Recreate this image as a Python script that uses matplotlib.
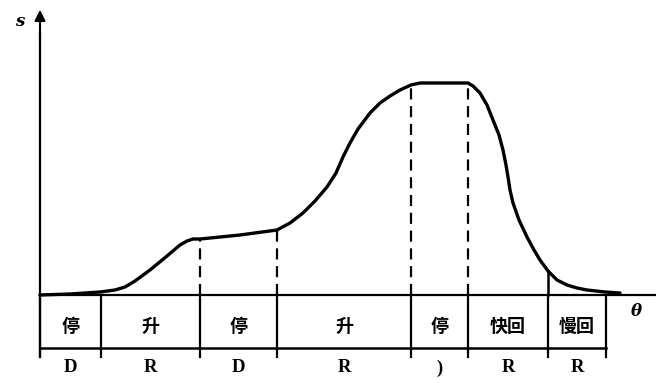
import matplotlib
matplotlib.use("Agg")
import matplotlib.pyplot as plt

plt.rcParams['font.family'] = ['Noto Sans CJK SC', 'DejaVu Sans']

# Displacement curve s(theta) of the cam follower
theta = [0, 30, 60, 75, 85, 95, 110, 127, 140, 147, 153, 160, 200, 237,
         250, 263, 275, 287, 296, 303, 310, 318, 330, 340, 350, 360, 371,
         380, 428, 433, 440, 447, 453, 459, 463, 466, 468, 470, 473, 479,
         487, 494, 500, 508, 517, 527, 537, 547, 565, 580]
s = [0, 1, 3, 5, 8, 14, 25, 39, 50, 54, 56, 56, 60, 65,
     72, 82, 94, 108, 122, 138, 152, 166, 182, 192, 199, 205, 210,
     212, 212, 209, 202, 190, 175, 160, 145, 130, 118, 105, 92, 75,
     58, 45, 35, 24, 15, 10, 7, 5, 3, 2]

# Phase boundaries along theta and the height of the curve at each one
bounds = [0, 61, 160, 237, 371, 428, 508, 566]
bound_s = [0, 0, 56, 65, 210, 212, 24, 0]

phase_names = ['停', '升', '停', '升', '停', '快回', '慢回']
phase_codes = ['D', 'R', 'D', 'R', ')', 'R', 'R']

fig = plt.figure(figsize=(6.56, 3.83), dpi=100)
ax = fig.add_axes([0, 0, 1, 1])
ax.set_xlim(-40, 616)
ax.set_ylim(-88, 295)
ax.axis('off')

lw_axis = 1.6
# axes with arrows
ax.plot([0, 0], [-62, 262], color='black', lw=lw_axis)
ax.annotate('', xy=(0, 288), xytext=(0, 255),
            arrowprops=dict(arrowstyle='-|>', color='black', lw=1.5,
                            mutation_scale=16))
ax.plot([0, 616], [0, 0], color='black', lw=lw_axis)
ax.text(-20, 273, 's', fontsize=12, fontstyle='italic', fontweight='bold',
        family='DejaVu Serif', ha='center', va='center')
ax.text(596, -16, 'θ', fontsize=12, fontstyle='italic', fontweight='bold',
        family='DejaVu Serif', ha='center', va='center')

# curve
ax.plot(theta, s, color='black', lw=2.4, solid_capstyle='round',
        solid_joinstyle='round')

# dashed guides from axis to curve, solid through the phase table
for b, h in zip(bounds, bound_s):
    if b in (160, 237, 371, 428):
        ax.plot([b, b], [0, h], color='black', lw=1.6, ls=(0, (5, 3)))
    elif b == 508:
        ax.plot([b, b], [0, h], color='black', lw=1.8)
    ax.plot([b, b], [0, -62], color='black', lw=1.6)

# phase table bottom line
ax.plot([bounds[0], bounds[-1]], [-53, -53], color='black', lw=1.8)

for i in range(len(phase_names)):
    mid = (bounds[i] + bounds[i + 1]) / 2
    ax.text(mid, -31, phase_names[i], fontsize=13, fontweight='bold',
            ha='center', va='center')
    ax.text(mid, -73, phase_codes[i], fontsize=13.5, fontweight='bold',
            family='Liberation Serif', ha='center', va='center')

fig.savefig('out.png', dpi=100, facecolor='white')
